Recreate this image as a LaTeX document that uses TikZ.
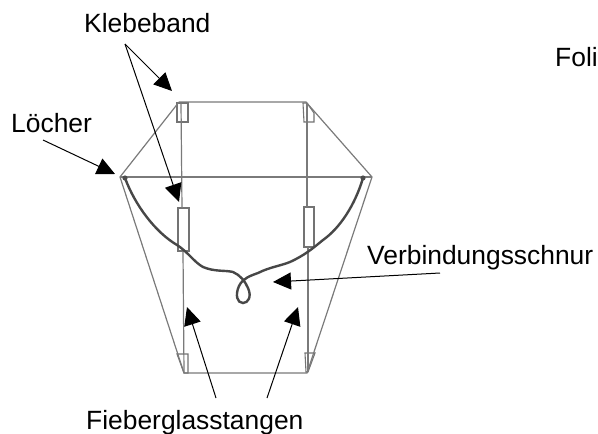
\documentclass[tikz,border=0pt]{standalone}
\usepackage{fontspec}
\setmainfont{Liberation Sans}
\usetikzlibrary{arrows.meta}
\tikzset{
 x=1pt,y=-1pt,
 lab/.style={inner sep=0pt,anchor=base west,font=\fontsize{26.4}{30}\selectfont,text=black},
 pen/.style={draw=black!52,line width=1.2pt},
 tape/.style={draw=black!55,line width=1.1pt,fill=white},
 cord/.style={draw=black!72,line width=2.4pt,line cap=round},
 arr/.style={draw=black,line width=1pt,-{Triangle[length=18pt,width=17pt]}}
}
\begin{document}
\begin{tikzpicture}
\useasboundingbox (0,0) rectangle (598,434);
% labels
\node[lab] (kl) at (84,32) {Klebeband};
\node[lab] (lo) at (11,132) {Löcher};
\node[lab] (fo) at (555,66) {Foli};
\node[lab] (ve) at (367,264) {Verbindungsschnur};
\node[lab] (fi) at (86,429) {Fieberglasstangen};
% kite outline
\coordinate (tl) at (179,102);
\coordinate (tr) at (306,102);
\coordinate (l) at (120,177);
\coordinate (r) at (372,177);
\coordinate (bl) at (184,373);
\coordinate (br) at (307,373);
\draw[tape] (177,103) rectangle (188,122);
\draw[tape] (303,103) -- (307,103) -- (314,113) -- (314,122) -- (304,122) -- cycle;
\draw[tape] (178,208) rectangle (189,251);
\draw[tape] (304,207) rectangle (314,247);
\draw[tape] (177,354) -- (188,354) -- (188,373) -- (184,373) -- cycle;
\draw[tape] (305,353) -- (315,353) -- (308,372) -- (306,372) -- cycle;
\draw[pen] (tl) -- (tr) -- (r) -- (br) -- (bl) -- (l) -- (tl);
\draw[pen] (l) -- (r);
\draw[pen] (181,103) -- (182,208) (183,251) -- (184,373);
\draw[pen] (307,103) -- (307,207) (308,247) -- (308,372);
% cord
\draw[cord] (125,178) .. controls (135,205) and (155,232) .. (177,245)
 .. controls (188,252) and (194,262) .. (203,267)
 .. controls (215,272) and (225,270) .. (233,272)
 .. controls (240,275) and (245,281) .. (248,288)
 .. controls (252,297) and (248,303) .. (243,303)
 .. controls (237,303) and (235,295) .. (239,286)
 .. controls (243,278) and (250,276) .. (258,273)
 .. controls (270,267) and (280,266) .. (290,262)
 .. controls (305,255) and (312,249) .. (323,240)
 .. controls (340,228) and (355,205) .. (363,178);
\fill[black!70] (125,178) circle (2.6) (363,178) circle (2.6);
% arrows
\coordinate (a1) at (125,44);
\coordinate (a2) at (172,91);
\coordinate (a3) at (179,202);
\coordinate (b1) at (43,140);
\coordinate (b2) at (115,174);
\coordinate (c1) at (440,273);
\coordinate (c2) at (273,282);
\coordinate (f1) at (216,398);
\coordinate (f2) at (187,307);
\coordinate (f3) at (267,398);
\coordinate (f4) at (298,307);
\draw[arr] (a1) -- (a2);
\draw[arr] (a1) -- (a3);
\draw[arr] (b1) -- (b2);
\draw[arr] (c1) -- (c2);
\draw[arr] (f1) -- (f2);
\draw[arr] (f3) -- (f4);
\end{tikzpicture}
\end{document}
